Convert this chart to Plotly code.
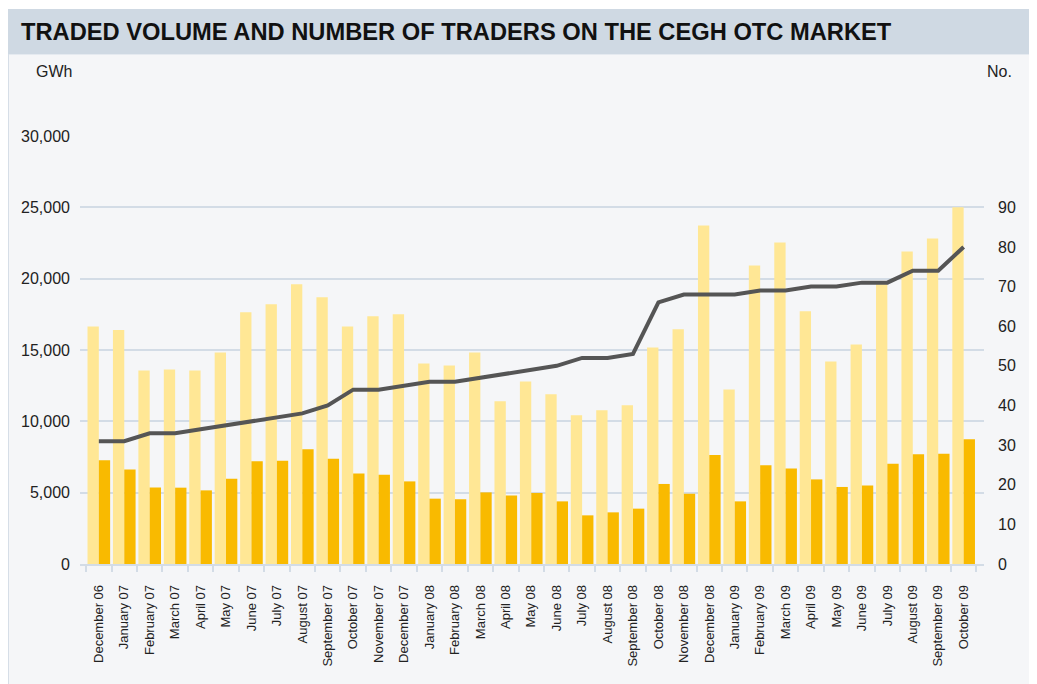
import plotly.graph_objects as go

months = ["December 06", "January 07", "February 07", "March 07", "April 07", "May 07",
          "June 07", "July 07", "August 07", "September 07", "October 07", "November 07",
          "December 07", "January 08", "February 08", "March 08", "April 08", "May 08",
          "June 08", "July 08", "August 08", "September 08", "October 08", "November 08",
          "December 08", "January 09", "February 09", "March 09", "April 09", "May 09",
          "June 09", "July 09", "August 09", "September 09", "October 09"]

traded_volume = [16650, 16400, 13570, 13640, 13570, 14830, 17640, 18200, 19600, 18690,
                 16650, 17360, 17500, 14060, 13920, 14830, 11400, 12800, 11890, 10420,
                 10770, 11120, 15180, 16450, 23730, 12240, 20930, 22540, 17710, 14200,
                 15390, 19600, 21910, 22820, 25000]

net_volume = [7270, 6630, 5370, 5350, 5160, 5980, 7200, 7240, 8040, 7380,
              6350, 6260, 5790, 4580, 4530, 5020, 4810, 4980, 4390, 3410,
              3620, 3880, 5610, 4930, 7640, 4390, 6920, 6700, 5930, 5400,
              5510, 7030, 7690, 7730, 8740]

traders = [31, 31, 33, 33, 34, 35, 36, 37, 38, 40, 44, 44, 45, 46, 46, 47, 48, 49,
           50, 52, 52, 53, 66, 68, 68, 68, 69, 69, 70, 70, 71, 71, 74, 74, 80]

left_ticks = [0, 5000, 10000, 15000, 20000, 25000, 30000]
right_ticks = [0, 10, 20, 30, 40, 50, 60, 70, 80, 90]

# page offset (browser body margin)
OFF = 8
W, H = 1037 - OFF, 684 - OFF
# plot area in page pixels
L, R, T, B = 80, 984, 136, 564


def px_x(p):
    return (p - L) / (R - L)


def px_y(p):
    return (B - p) / (B - T)


FONT = "Liberation Sans, Arial, sans-serif"
GRID = "#d3dce6"

fig = go.Figure()
fig.add_trace(go.Bar(x=months, y=traded_volume, name="Traded volume",
                     marker=dict(color="#FFE795", line=dict(width=0))))
fig.add_trace(go.Bar(x=months, y=net_volume, name="Net traded volume",
                     marker=dict(color="#F9BA00", line=dict(width=0))))
fig.add_trace(go.Scatter(x=months, y=traders, name="Number of traders", yaxis="y2",
                         mode="lines", line=dict(color="#555555", width=4)))

shapes = [
    dict(type="rect", xref="paper", yref="paper", layer="below",
         x0=px_x(8.5), x1=px_x(1030), y0=px_y(700), y1=px_y(54),
         fillcolor="#f5f6f8", line=dict(color="#d6dee7", width=1)),
    dict(type="rect", xref="paper", yref="paper", layer="below",
         x0=px_x(8), x1=px_x(1030), y0=px_y(54), y1=px_y(9),
         fillcolor="#cfd9e3", line=dict(width=0)),
]

annotations = [
    dict(text="<b>TRADED VOLUME AND NUMBER OF TRADERS ON THE CEGH OTC MARKET</b>",
         xref="paper", yref="paper", x=px_x(19), y=px_y(32), xanchor="left",
         yanchor="middle", showarrow=False,
         font=dict(family=FONT, size=23.7, color="#111111")),
    dict(text="GWh", xref="paper", yref="paper", x=px_x(34), y=px_y(71),
         xanchor="left", yanchor="middle", showarrow=False,
         font=dict(family=FONT, size=16, color="#222222")),
    dict(text="No.", xref="paper", yref="paper", x=px_x(1014), y=px_y(71),
         xanchor="right", yanchor="middle", showarrow=False,
         font=dict(family=FONT, size=16, color="#222222")),
]

fig.update_layout(
    width=W, height=H,
    margin=dict(l=L - OFF, r=W - (R - OFF), t=T - OFF, b=H - (B - OFF), pad=0),
    paper_bgcolor="white",
    plot_bgcolor="rgba(0,0,0,0)",
    barmode="group", bargap=0.11, bargroupgap=0,
    showlegend=False,
    shapes=shapes,
    annotations=annotations,
    font=dict(family=FONT, color="#222222"),
    xaxis=dict(
        type="category", range=[-0.74, 34.8], tickangle=-90,
        tickson="boundaries", ticks="outside", ticklen=6, tickcolor=GRID,
        tickwidth=1.5, showgrid=False, showline=True, linecolor=GRID, linewidth=1.5,
        tickfont=dict(family=FONT, size=13, color="#222222"),
        ticklabelstandoff=14,
    ),
    yaxis=dict(
        range=[0, 30000], tickvals=left_ticks, tickformat=",d",
        showgrid=True, gridcolor=GRID, gridwidth=1.5, zeroline=False,
        showline=False, ticks="",
        tickfont=dict(family=FONT, size=16, color="#222222"),
        ticklabelstandoff=9,
    ),
    yaxis2=dict(
        overlaying="y", side="right", range=[0, 108], tickvals=right_ticks,
        showgrid=False, zeroline=False, showline=False, ticks="",
        tickfont=dict(family=FONT, size=16, color="#222222"),
        ticklabelstandoff=13,
    ),
)

fig.write_html("out.html")
